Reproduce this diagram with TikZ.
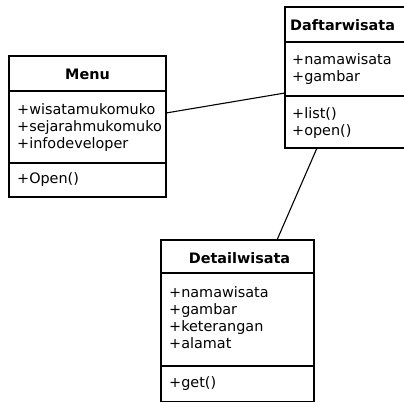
\documentclass[tikz,border=0pt]{standalone}
\usepackage{fontspec}
\setmainfont{DejaVu Sans}
\begin{document}
\begin{tikzpicture}[x=1pt,y=-1pt,
  classbox/.style={draw, line width=1.2pt, rectangle, inner sep=0pt, outer sep=0pt},
  member/.style={anchor=base west, inner sep=0pt, font=\fontsize{14.4}{17}\selectfont},
  classname/.style={anchor=base, inner sep=0pt, font=\fontsize{14.4}{17}\selectfont\bfseries},
  divider/.style={line width=1.2pt},
  link/.style={line width=1.1pt}]
\useasboundingbox (0,0) rectangle (404,403);

% ---------- Menu ----------
\node[classbox, minimum width=157pt, minimum height=141pt] (menu) at (87.5,126.5) {};
\draw[divider] (menu.west |- 0,91) -- (menu.east |- 0,91);
\draw[divider] (menu.west |- 0,163) -- (menu.east |- 0,163);
\node[classname] (menuT) at (87.5,80) {Menu};
\node[member] (menuA1) at (17,115) {+wisatamukomuko};
\node[member] (menuA2) at (17,132) {+sejarahmukomuko};
\node[member] (menuA3) at (17,149) {+infodeveloper};
\node[member] (menuO1) at (17,184) {+Open()};

% ---------- Daftarwisata ----------
\node[classbox, minimum width=127pt, minimum height=141pt] (daftar) at (348.5,77.5) {};
\draw[divider] (daftar.west |- 0,42) -- (daftar.east |- 0,42);
\draw[divider] (daftar.west |- 0,96) -- (daftar.east |- 0,96);
\node[classname, anchor=base west] (daftarT) at (290,31) {Daftarwisata};
\node[member] (daftarA1) at (292,65) {+namawisata};
\node[member] (daftarA2) at (292,82) {+gambar};
\node[member] (daftarO1) at (292,119) {+list()};
\node[member] (daftarO2) at (292,136) {+open()};

% ---------- Detailwisata ----------
\node[classbox, minimum width=153pt, minimum height=161.5pt] (detail) at (237.5,320.75) {};
\draw[divider] (detail.west |- 0,273) -- (detail.east |- 0,273);
\draw[divider] (detail.west |- 0,366) -- (detail.east |- 0,366);
\node[classname] (detailT) at (239.5,264) {Detailwisata};
\node[member] (detailA1) at (169,297) {+namawisata};
\node[member] (detailA2) at (169,314) {+gambar};
\node[member] (detailA3) at (169,331) {+keterangan};
\node[member] (detailA4) at (169,348) {+alamat};
\node[member] (detailO1) at (169,387) {+get()};

% ---------- associations ----------
\draw[link] (menu.east |- 0,113) -- (daftar.west |- 0,93);
\draw[link] (daftar.south -| 317,0) -- (detail.north -| 277,0);
\end{tikzpicture}
\end{document}
